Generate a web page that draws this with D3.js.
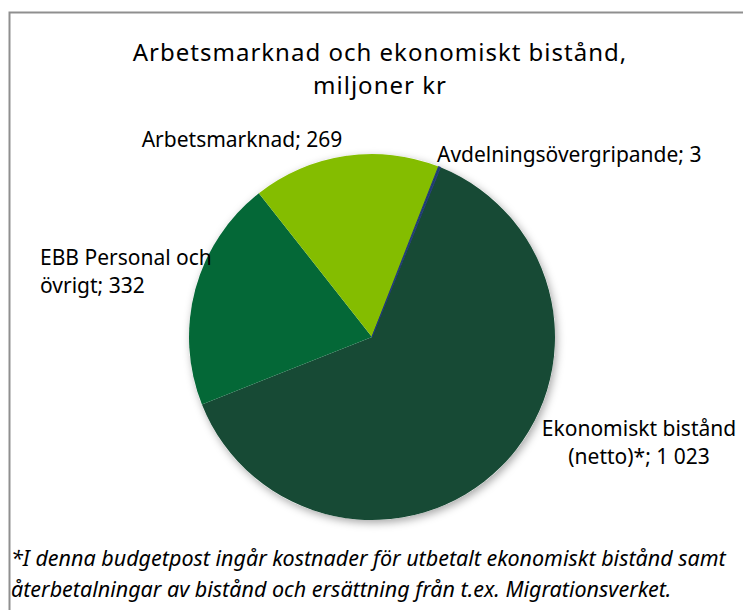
<!DOCTYPE html>
<html>
<head>
<meta charset="utf-8">
<script src="https://cdn.jsdelivr.net/npm/d3@7"></script>
<style>
  html, body { margin: 0; padding: 0; background: #fff; }
  svg { display: block; }
  text { font-family: "Noto Sans", "Open Sans", sans-serif; fill: #000; }
</style>
</head>
<body>
<svg id="chart" width="743" height="610"></svg>
<script>
// Budget split, millions of SEK
const categories = [
  "Ekonomiskt bistånd (netto)*",
  "EBB Personal och övrigt",
  "Arbetsmarknad",
  "Avdelningsövergripande"
];
const values = [1023, 332, 269, 3];
const valueLabels = ["1 023", "332", "269", "3"];
const colors = ["#174a35", "#046837", "#84bd00", "#1f3b73"];

const titleLines = ["Arbetsmarknad och ekonomiskt bistånd,", "miljoner kr"];
const footnoteLines = [
  "*I denna budgetpost ingår kostnader för utbetalt ekonomiskt bistånd samt",
  "återbetalningar av bistånd och ersättning från t.ex. Migrationsverket."
];

const svg = d3.select("#chart");
const W = 743, H = 610;

// multi-line text block: one <text>, one <tspan> per line
function textBlock(parent, lines, x, y, lineH, anchor, size, italic) {
  const t = parent.append("text")
    .attr("x", x).attr("y", y)
    .attr("text-anchor", anchor)
    .style("font-size", size + "px")
    .style("font-style", italic ? "italic" : "normal");
  t.selectAll("tspan").data(lines).join("tspan")
    .attr("x", x)
    .attr("dy", (d, i) => i === 0 ? 0 : lineH)
    .text(d => d);
  return t;
}

// drop shadow for the pie
const defs = svg.append("defs");
const f = defs.append("filter").attr("id", "shadow")
  .attr("x", "-20%").attr("y", "-20%").attr("width", "140%").attr("height", "140%");
f.append("feDropShadow").attr("dx", 2).attr("dy", 3)
  .attr("stdDeviation", 4).attr("flood-color", "#000").attr("flood-opacity", 0.35);

// chart frame (open to the right and bottom)
svg.append("path")
  .attr("d", d3.line()([[9.5, H], [9.5, 12.5], [W, 12.5]]))
  .attr("fill", "none").attr("stroke", "#8f8f8f").attr("stroke-width", 2);

// title
textBlock(svg, titleLines, 380, 61, 33, "middle", 24, false)
  .style("letter-spacing", "1px");

// pie
const cx = 372, cy = 337, r = 183;
const startDeg = 22;
const pie = d3.pie().sort(null).value(d => d)
  .startAngle(startDeg * Math.PI / 180)
  .endAngle((startDeg + 360) * Math.PI / 180);
const arcs = pie(values);
const arc = d3.arc().innerRadius(0).outerRadius(r);

const g = svg.append("g").attr("transform", `translate(${cx},${cy})`);
g.append("circle").attr("r", r).attr("fill", "#fff").attr("filter", "url(#shadow)");
g.selectAll("path").data(arcs).join("path")
  .attr("d", arc)
  .attr("fill", (d, i) => colors[i])
  .attr("stroke", (d, i) => i === 3 ? colors[3] : "none")
  .attr("stroke-width", 1);

// data labels
const labelSpec = [
  { lines: ["Ekonomiskt bistånd", "(netto)*; " + valueLabels[0]], x: 639, y: 436, anchor: "middle" },
  { lines: ["EBB Personal och", "övrigt; " + valueLabels[1]], x: 40, y: 265, anchor: "start" },
  { lines: ["Arbetsmarknad; " + valueLabels[2]], x: 242, y: 147, anchor: "middle" },
  { lines: ["Avdelningsövergripande; " + valueLabels[3]], x: 437, y: 162, anchor: "start" }
];
const lg = svg.append("g");
labelSpec.forEach(s => textBlock(lg, s.lines, s.x, s.y, 28, s.anchor, 21, false));

// footnote
textBlock(svg, footnoteLines, 11, 566, 31, "start", 21.5, true);
</script>
</body>
</html>
